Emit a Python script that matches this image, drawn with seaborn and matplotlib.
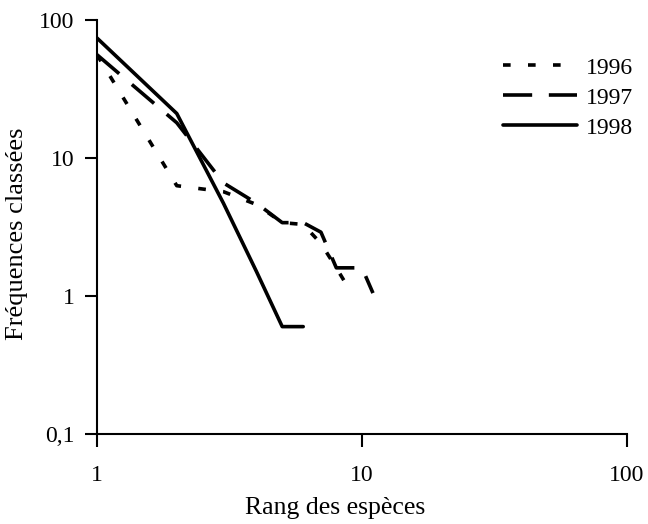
import numpy as np
import pandas as pd
import matplotlib
matplotlib.use("Agg")
import matplotlib.pyplot as plt
import matplotlib.ticker as mticker
import seaborn as sns

# ── Data ─────────────────────────────────────────────────────────
ranks_1996 = [1, 2, 3, 4, 5, 6, 7, 8, 9]
freq_1996  = [56, 6.3, 5.7, 4.6, 3.4, 3.3, 2.4, 1.6, 1.1]

ranks_1997 = [1, 2, 3, 4, 5, 6, 7, 8, 9, 10, 11]
freq_1997  = [56, 18, 6.6, 4.7, 3.4, 3.4, 2.9, 1.6, 1.6, 1.6, 1.05]

ranks_1998 = [1, 2, 3, 4, 5, 6]
freq_1998  = [74, 21, 4.7, 1.5, 0.6, 0.6]

years = ["1996", "1997", "1998"]
x_ticks = [1, 10, 100]
x_labels = ["1", "10", "100"]
y_ticks = [0.1, 1, 10, 100]
y_labels = ["0,1", "1", "10", "100"]

df = pd.concat([
    pd.DataFrame({"rang": ranks_1996, "freq": freq_1996, "annee": "1996"}),
    pd.DataFrame({"rang": ranks_1997, "freq": freq_1997, "annee": "1997"}),
    pd.DataFrame({"rang": ranks_1998, "freq": freq_1998, "annee": "1998"}),
])

# ── Style ────────────────────────────────────────────────────────
sns.set_theme(style="ticks")
plt.rcParams.update({
    "font.family": ["Liberation Serif", "DejaVu Serif"],
    "font.size": 17,
    "lines.scale_dashes": False,
    "axes.edgecolor": "black",
    "axes.linewidth": 1.5,
    "xtick.color": "black",
    "ytick.color": "black",
    "text.color": "black",
    "axes.labelcolor": "black",
})

fig = plt.figure(figsize=(6.48, 5.24), dpi=100)
ax = fig.add_axes([97 / 648, 1 - 434 / 524, (627 - 97) / 648, (434 - 20) / 524])

dash_map = {"1996": (5.5, 12.5), "1997": (21, 12), "1998": ""}
sns.lineplot(data=df, x="rang", y="freq", hue="annee", style="annee",
             palette={y: "black" for y in years}, dashes=dash_map,
             linewidth=2.6, ax=ax, legend=False, sort=True)

ax.set_xscale("log")
ax.set_yscale("log")
ax.set_xlim(1, 100)
ax.set_ylim(0.1, 100)

ax.xaxis.set_major_locator(mticker.FixedLocator(x_ticks))
ax.xaxis.set_major_formatter(mticker.FixedFormatter(x_labels))
ax.yaxis.set_major_locator(mticker.FixedLocator(y_ticks))
ax.yaxis.set_major_formatter(mticker.FixedFormatter(y_labels))
ax.xaxis.set_minor_locator(mticker.NullLocator())
ax.yaxis.set_minor_locator(mticker.NullLocator())
ax.tick_params(axis="both", which="major", direction="out", length=9,
               width=1.5, labelsize=17)
ax.tick_params(axis="x", pad=13)
ax.tick_params(axis="y", pad=7)

sns.despine(ax=ax)

ax.set_xlabel("Rang des espèces", fontsize=18.5)
ax.set_ylabel("Fréquences classées", fontsize=19)
ax.xaxis.set_label_coords(0.449, -0.152)
ax.yaxis.set_label_coords(-0.130, 0.483)

# legend built from the drawn lines
handles = ax.get_lines()[:3]
ax.legend(handles, years, loc="upper left", bbox_to_anchor=(503 / 648, 1 - 57 / 524),
          bbox_transform=fig.transFigure, frameon=False, fontsize=17,
          handlelength=3.15, handletextpad=0.35, labelspacing=0.36, borderpad=0,
          borderaxespad=0)

fig.savefig("out.png", dpi=100, facecolor="white")
